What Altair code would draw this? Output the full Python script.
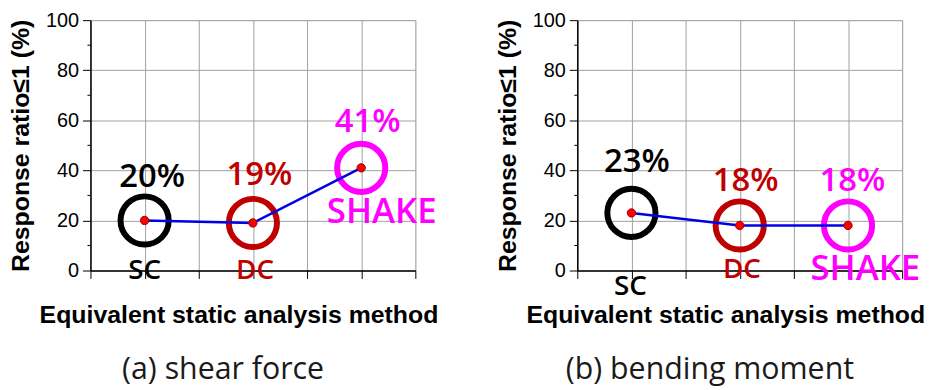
import altair as alt
import pandas as pd

# ---- data ----
methods = ["SC", "DC", "SHAKE"]
method_colors = ["#000000", "#c00000", "#ff00ff"]
shear_values = [20, 19, 41]
moment_values = [23, 18, 18]
shear_pct_text = ["20%", "19%", "41%"]
moment_pct_text = ["23%", "18%", "18%"]
y_ticks = [0, 20, 40, 60, 80, 100]
y_minor = [10, 30, 50, 70, 90]
x_ticks = [0, 0.5, 1, 1.5, 2, 2.5, 3]
subtitles = ["(a) shear force", "(b) bending moment"]

# annotation anchors in data units (x, y)
shear_pct_x = [0.57, 1.56, 2.56]
shear_pct_y = [33.3, 34.1, 55.4]
shear_name_x = [0.50, 1.52, 2.69]
shear_name_y = [-3.5, -3.5, 19.0]
moment_pct_x = [0.55, 1.555, 2.54]
moment_pct_y = [39.3, 31.9, 31.9]
moment_name_x = [0.49, 1.52, 2.66]
moment_name_y = [-9.7, -3.1, -3.9]
pct_sizes = [33, 33, 33]
name_sizes = [28, 28, 35]

W, H = 327, 252
GRID = "#a0a0a0"


def panel(values, pct_text, pct_x, pct_y, name_x, name_y, subtitle):
    df = pd.DataFrame({
        "x": [i + 0.5 for i in range(len(methods))],
        "value": values,
        "method": methods,
        "color": method_colors,
    })
    lab = pd.DataFrame({
        "x": pct_x + name_x,
        "value": pct_y + name_y,
        "text": pct_text + methods,
        "color": method_colors + method_colors,
        "fs": pct_sizes + name_sizes,
    })
    minor = pd.DataFrame({"value": y_minor})

    x_enc = alt.X("x:Q", scale=alt.Scale(domain=[0, 3], nice=False, zero=False),
                  axis=alt.Axis(values=x_ticks, labels=False, tickSize=8, tickColor="#000",
                                grid=True, gridColor=GRID, gridWidth=1,
                                domainColor="#000", domainWidth=1.5,
                                title="Equivalent static analysis method",
                                titleFont="Liberation Sans", titleFontSize=25,
                                titleFontWeight="bold", titleColor="#000",
                                titleX=149, titleY=52, titleBaseline="alphabetic"))
    y_enc = alt.Y("value:Q", scale=alt.Scale(domain=[0, 100], nice=False),
                  axis=alt.Axis(values=y_ticks, tickSize=8, tickColor="#000",
                                labelFont="Liberation Sans", labelFontSize=20,
                                labelColor="#000", labelPadding=4,
                                grid=True, gridColor=GRID, gridWidth=1,
                                domainColor="#000", domainWidth=1.5,
                                title="Response ratio≤1 (%)",
                                titleFont="Liberation Sans", titleFontSize=25,
                                titleFontWeight="bold", titleColor="#000",
                                titleX=-62, titleBaseline="alphabetic"))

    base = alt.Chart(df)
    rings = base.mark_point(shape="circle", filled=False, size=2350, strokeWidth=6,
                            opacity=1).encode(
        x=x_enc, y=y_enc, color=alt.Color("color:N", scale=None))
    line = base.mark_line(color="#0000e6", strokeWidth=2.5).encode(x="x:Q", y="value:Q")
    dots = base.mark_point(shape="circle", filled=True, size=70, fill="#ff0000",
                           stroke="#990000", strokeWidth=1, opacity=1).encode(
        x="x:Q", y="value:Q")
    minor_ticks = alt.Chart(minor).mark_rule(color="#000", strokeWidth=1).encode(
        y="value:Q", x=alt.value(0), x2=alt.value(-3))
    texts = alt.Chart(lab).mark_text(font="Open Sans", fontWeight=600,
                                     align="center", baseline="alphabetic").encode(
        x="x:Q", y="value:Q", text="text:N",
        color=alt.Color("color:N", scale=None),
        size=alt.Size("fs:Q", scale=None))

    return alt.layer(rings, line, dots, minor_ticks, texts).properties(
        width=W, height=H,
        title=alt.TitleParams(subtitle, orient="bottom", anchor="middle", dx=-30,
                              offset=28, font="Open Sans", fontSize=30.5,
                              fontWeight="normal", color="#1a1a1a"))


left = panel(shear_values, shear_pct_text, shear_pct_x, shear_pct_y,
             shear_name_x, shear_name_y, subtitles[0])
right = panel(moment_values, moment_pct_text, moment_pct_x, moment_pct_y,
              moment_name_x, moment_name_y, subtitles[1])

chart = alt.hconcat(left, right, spacing=163, bounds="flush").properties(
    padding={"left": 0, "top": 0, "right": 0, "bottom": 0}
).configure_view(strokeWidth=0).configure(background="white")

chart.save("out.html", embed_options={"renderer": "svg", "actions": False})
